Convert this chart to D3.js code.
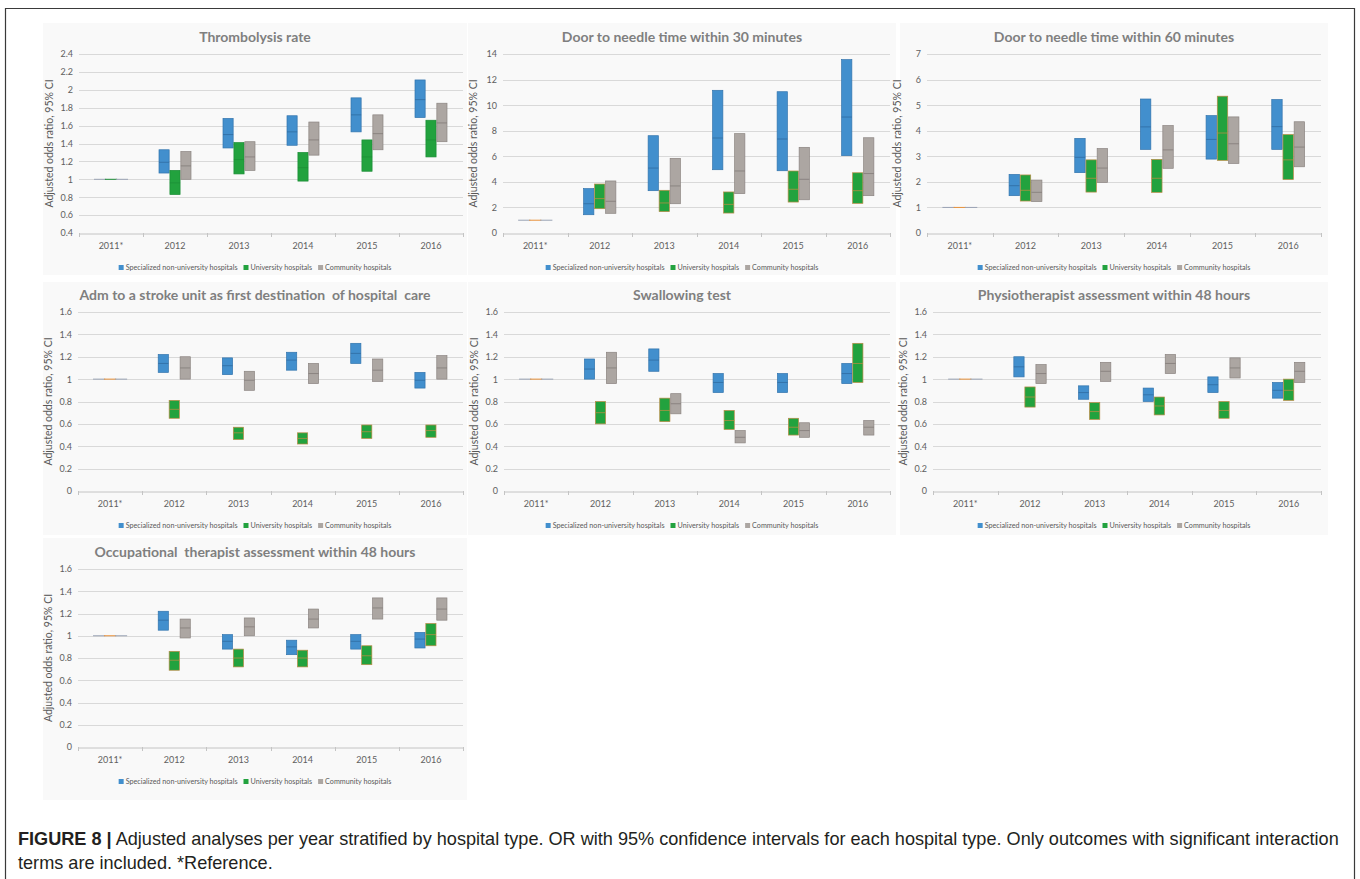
<!DOCTYPE html>
<html>
<head>
<meta charset="utf-8">
<script src="https://cdn.jsdelivr.net/npm/d3@7"></script>
<style>
  body { margin: 0; background: #fff; }
  svg { display: block; }
</style>
</head>
<body>
<div id="chart"></div>
<script>
// categories
const years = ["2011*", "2012", "2013", "2014", "2015", "2016"];
const hospitalTypes = ["Specialized non-university hospitals", "University hospitals", "Community hospitals"];

// each entry is [lower CI, odds ratio, upper CI] per year
const thrombolysisSpecialized = [[1, 1, 1], [1.07, 1.19, 1.33], [1.35, 1.50, 1.68], [1.38, 1.53, 1.71], [1.53, 1.72, 1.91], [1.69, 1.89, 2.11]];
const thrombolysisUniversity  = [[1, 1, 1], [0.83, 0.96, 1.10], [1.06, 1.22, 1.41], [0.98, 1.13, 1.30], [1.09, 1.25, 1.44], [1.25, 1.44, 1.66]];
const thrombolysisCommunity   = [[1, 1, 1], [1.00, 1.15, 1.31], [1.10, 1.25, 1.42], [1.27, 1.44, 1.64], [1.33, 1.51, 1.72], [1.42, 1.63, 1.85]];

const dnt30Specialized = [[1, 1, 1], [1.43, 2.29, 3.47], [3.31, 5.08, 7.61], [4.95, 7.43, 11.16], [4.87, 7.35, 11.05], [6.05, 9.07, 13.56]];
const dnt30University  = [[1, 1, 1], [1.90, 2.69, 3.83], [1.67, 2.35, 3.34], [1.56, 2.24, 3.21], [2.42, 3.42, 4.85], [2.32, 3.31, 4.71]];
const dnt30Community   = [[1, 1, 1], [1.54, 2.48, 4.07], [2.29, 3.68, 5.84], [3.08, 4.85, 7.77], [2.60, 4.20, 6.70], [2.92, 4.65, 7.45]];

const dnt60Specialized = [[1, 1, 1], [1.46, 1.85, 2.29], [2.36, 2.96, 3.70], [3.27, 4.15, 5.24], [2.89, 3.66, 4.59], [3.27, 4.16, 5.22]];
const dnt60University  = [[1, 1, 1], [1.25, 1.67, 2.27], [1.60, 2.14, 2.86], [1.59, 2.14, 2.88], [2.84, 3.91, 5.35], [2.09, 2.86, 3.85]];
const dnt60Community   = [[1, 1, 1], [1.23, 1.59, 2.07], [1.98, 2.54, 3.30], [2.53, 3.25, 4.20], [2.72, 3.49, 4.54], [2.59, 3.36, 4.35]];

const strokeUnitSpecialized = [[1, 1, 1], [1.06, 1.14, 1.22], [1.04, 1.12, 1.19], [1.08, 1.17, 1.24], [1.14, 1.23, 1.32], [0.92, 0.99, 1.06]];
const strokeUnitUniversity  = [[1, 1, 1], [0.65, 0.73, 0.81], [0.46, 0.52, 0.57], [0.42, 0.47, 0.52], [0.47, 0.53, 0.59], [0.48, 0.54, 0.59]];
const strokeUnitCommunity   = [[1, 1, 1], [1.00, 1.10, 1.20], [0.90, 0.99, 1.07], [0.96, 1.05, 1.14], [0.98, 1.08, 1.18], [1.00, 1.10, 1.21]];

const swallowSpecialized = [[1, 1, 1], [1.00, 1.09, 1.18], [1.07, 1.17, 1.27], [0.88, 0.97, 1.05], [0.88, 0.97, 1.05], [0.96, 1.05, 1.14]];
const swallowUniversity  = [[1, 1, 1], [0.60, 0.70, 0.80], [0.62, 0.72, 0.83], [0.55, 0.63, 0.72], [0.50, 0.57, 0.65], [0.97, 1.14, 1.32]];
const swallowCommunity   = [[1, 1, 1], [0.96, 1.10, 1.24], [0.69, 0.78, 0.87], [0.43, 0.48, 0.54], [0.48, 0.54, 0.61], [0.50, 0.57, 0.63]];

const physioSpecialized = [[1, 1, 1], [1.02, 1.11, 1.20], [0.82, 0.88, 0.94], [0.80, 0.86, 0.92], [0.88, 0.95, 1.02], [0.83, 0.90, 0.97]];
const physioUniversity  = [[1, 1, 1], [0.75, 0.84, 0.93], [0.64, 0.71, 0.79], [0.68, 0.76, 0.84], [0.65, 0.72, 0.80], [0.81, 0.90, 1.00]];
const physioCommunity   = [[1, 1, 1], [0.96, 1.05, 1.13], [0.98, 1.07, 1.15], [1.05, 1.14, 1.22], [1.01, 1.10, 1.19], [0.97, 1.07, 1.15]];

const occupSpecialized = [[1, 1, 1], [1.05, 1.14, 1.22], [0.88, 0.95, 1.01], [0.83, 0.90, 0.96], [0.88, 0.95, 1.01], [0.89, 0.97, 1.03]];
const occupUniversity  = [[1, 1, 1], [0.69, 0.78, 0.86], [0.72, 0.80, 0.88], [0.72, 0.80, 0.87], [0.74, 0.82, 0.91], [0.91, 1.01, 1.11]];
const occupCommunity   = [[1, 1, 1], [0.98, 1.07, 1.15], [1.00, 1.08, 1.16], [1.07, 1.15, 1.24], [1.15, 1.25, 1.34], [1.14, 1.24, 1.34]];

// y tick labels
const ticksThrombolysis = [0.4, 0.6, 0.8, 1, 1.2, 1.4, 1.6, 1.8, 2, 2.2, 2.4];
const ticksDnt30 = [0, 2, 4, 6, 8, 10, 12, 14];
const ticksDnt60 = [0, 1, 2, 3, 4, 5, 6, 7];
const ticksProportion = [0, 0.2, 0.4, 0.6, 0.8, 1, 1.2, 1.4, 1.6];

const panels = [
  { title: "Thrombolysis rate", ticks: ticksThrombolysis, series: [thrombolysisSpecialized, thrombolysisUniversity, thrombolysisCommunity], greenEdge: "#1b8c35" },
  { title: "Door to needle time within 30 minutes", ticks: ticksDnt30, series: [dnt30Specialized, dnt30University, dnt30Community] },
  { title: "Door to needle time within 60 minutes", ticks: ticksDnt60, series: [dnt60Specialized, dnt60University, dnt60Community] },
  { title: "Adm to a stroke unit as first destination  of hospital  care", ticks: ticksProportion, series: [strokeUnitSpecialized, strokeUnitUniversity, strokeUnitCommunity] },
  { title: "Swallowing test", ticks: ticksProportion, series: [swallowSpecialized, swallowUniversity, swallowCommunity] },
  { title: "Physiotherapist assessment within 48 hours", ticks: ticksProportion, series: [physioSpecialized, physioUniversity, physioCommunity] },
  { title: "Occupational  therapist assessment within 48 hours", ticks: ticksProportion, series: [occupSpecialized, occupUniversity, occupCommunity] }
];

// placement of the seven panels on the page
const layout = [
  { px: 43,  py: 23,  pw: 424, ph: 252, x0: 79,  x1: 463,  yTop: 54,  yBot: 233 },
  { px: 468, py: 23,  pw: 428, ph: 252, x0: 503, x1: 890,  yTop: 54,  yBot: 233 },
  { px: 900, py: 23,  pw: 428, ph: 252, x0: 927, x1: 1321, yTop: 54,  yBot: 233 },
  { px: 43,  py: 282, pw: 424, ph: 253, x0: 78,  x1: 463,  yTop: 312, yBot: 491 },
  { px: 468, py: 282, pw: 428, ph: 253, x0: 504, x1: 890,  yTop: 312, yBot: 491 },
  { px: 900, py: 282, pw: 428, ph: 253, x0: 933, x1: 1321, yTop: 312, yBot: 491 },
  { px: 43,  py: 538, pw: 424, ph: 262, x0: 78,  x1: 463,  yTop: 569, yBot: 747 }
];

const fills = ["#428fcd", "#22a23e", "#aca6a2"];
const edges = ["#3274ad", "#b98b45", "#8b8480"];
const midColors = ["#2d679c", "#c48d45", "#7c7672"];
const font = "Lato, 'Open Sans', sans-serif";

const svg = d3.select("#chart").append("svg")
  .attr("width", 1360)
  .attr("height", 879);

// page frame
svg.append("path")
  .attr("d", "M5.5,879 V8.5 H1354.5 V879")
  .attr("fill", "none")
  .attr("stroke", "#3a3a3a")
  .attr("stroke-width", 1.2);

panels.forEach((p, i) => {
  const L = layout[i];
  const g = svg.append("g");

  g.append("rect")
    .attr("x", L.px).attr("y", L.py)
    .attr("width", L.pw).attr("height", L.ph)
    .attr("fill", "#f9f9f9");

  const x = d3.scaleBand().domain(years).range([L.x0, L.x1]);
  const bw = x.bandwidth();
  const inner = d3.scaleBand().domain(d3.range(hospitalTypes.length))
    .range([bw / 4, bw * 3 / 4])
    .paddingInner(0.07);
  const y = d3.scaleLinear()
    .domain(d3.extent(p.ticks))
    .range([L.yBot, L.yTop]);

  // gridlines
  g.selectAll(".grid")
    .data(p.ticks.slice(1))
    .enter().append("line")
    .attr("x1", L.x0).attr("x2", L.x1)
    .attr("y1", d => Math.round(y(d)) + 0.5)
    .attr("y2", d => Math.round(y(d)) + 0.5)
    .attr("stroke", "#d9d9d9");

  // y axis labels
  const yAxis = g.append("g")
    .attr("transform", `translate(${L.x0},0)`)
    .call(d3.axisLeft(y).tickValues(p.ticks).tickSize(0).tickPadding(6).tickFormat(d3.format("~g")));
  yAxis.select(".domain").remove();
  yAxis.selectAll("text")
    .attr("font-family", font).attr("font-size", 9).attr("fill", "#606060");

  // x axis
  const xAxis = g.append("g")
    .attr("transform", `translate(0,${Math.round(L.yBot) + 0.5})`)
    .call(d3.axisBottom(x).tickSize(0).tickPadding(9));
  xAxis.select(".domain").attr("stroke", "#c4c4c4");
  xAxis.selectAll("text")
    .attr("font-family", font).attr("font-size", 9).attr("fill", "#606060");
  g.selectAll(".xtick")
    .data(years.concat(["end"]))
    .enter().append("line")
    .attr("x1", (d, j) => Math.round(L.x0 + j * bw) + 0.5)
    .attr("x2", (d, j) => Math.round(L.x0 + j * bw) + 0.5)
    .attr("y1", Math.round(L.yBot)).attr("y2", Math.round(L.yBot) + 4)
    .attr("stroke", "#c4c4c4");

  // y axis title
  g.append("text")
    .attr("transform", `translate(${L.x0 - 26},${(L.yTop + L.yBot) / 2}) rotate(-90)`)
    .attr("text-anchor", "middle")
    .attr("font-family", font).attr("font-size", 10.5).attr("fill", "#595959")
    .text("Adjusted odds ratio, 95% CI");

  // panel title
  g.append("text")
    .attr("x", L.px + L.pw / 2)
    .attr("y", L.yTop - 12)
    .attr("text-anchor", "middle")
    .attr("font-family", font).attr("font-weight", "bold")
    .attr("font-size", 14).attr("fill", "#7f7f7f")
    .style("white-space", "pre")
    .text(p.title);

  // confidence boxes
  p.series.forEach((vals, k) => {
    const edge = (k === 1 && p.greenEdge) ? p.greenEdge : edges[k];
    const mid = (k === 1 && p.greenEdge) ? p.greenEdge : midColors[k];
    const sg = g.append("g");
    sg.selectAll("rect")
      .data(vals.map((v, j) => ({ year: years[j], lo: v[0], or: v[1], hi: v[2] })).filter(d => d.hi > d.lo))
      .enter().append("rect")
      .attr("x", d => x(d.year) + inner(k))
      .attr("width", inner.bandwidth())
      .attr("y", d => y(d.hi))
      .attr("height", d => y(d.lo) - y(d.hi))
      .attr("fill", fills[k])
      .attr("stroke", edge)
      .attr("stroke-width", 0.7);
    sg.selectAll("line")
      .data(vals.map((v, j) => ({ year: years[j], or: v[1], ref: v[0] === v[2] })))
      .enter().append("line")
      .attr("x1", d => x(d.year) + inner(k) - (d.ref ? 1 : 0))
      .attr("x2", d => x(d.year) + inner(k) + inner.bandwidth() + (d.ref ? 1 : 0))
      .attr("y1", d => y(d.or))
      .attr("y2", d => y(d.or))
      .attr("stroke", d => d.ref ? (k === 1 ? (p.greenEdge || "#e8913a") : "#9aa3b5") : mid)
      .attr("stroke-width", d => d.ref ? 1 : 0.7);
  });

  // legend
  const lg = g.append("g").attr("transform", `translate(0,${L.yBot + 35})`);
  const items = [];
  hospitalTypes.forEach((name, k) => {
    const item = lg.append("g");
    item.append("rect")
      .attr("x", 0).attr("y", -3)
      .attr("width", 5).attr("height", 5)
      .attr("fill", fills[k]);
    const t = item.append("text")
      .attr("x", 7).attr("y", 2)
      .attr("font-family", font).attr("font-size", 7.2).attr("fill", "#595959")
      .text(name);
    const w = 7 + t.node().getComputedTextLength();
    items.push({ item, w });
  });
  const total = d3.sum(items, d => d.w) + 6 * (items.length - 1);
  let cx = L.px + L.pw / 2 - total / 2;
  items.forEach(d => {
    d.item.attr("transform", `translate(${cx},0)`);
    cx += d.w + 6;
  });
});

// caption, narrowed horizontally to mimic a condensed face
const capFont = "'Liberation Sans', Arial, sans-serif";
const cap = svg.append("g");
const cap1 = cap.append("text")
  .attr("x", 0).attr("y", 0)
  .attr("font-family", capFont).attr("font-size", 18).attr("fill", "#231f20");
cap1.append("tspan").attr("font-weight", "bold").text("FIGURE 8 |");
cap1.append("tspan").text(" Adjusted analyses per year stratified by hospital type. OR with 95% confidence intervals for each hospital type. Only outcomes with significant interaction");
const cap2 = cap.append("text")
  .attr("x", 0).attr("y", 24)
  .attr("font-family", capFont).attr("font-size", 18).attr("fill", "#231f20")
  .text("terms are included. *Reference.");
const sx = 1322 / cap1.node().getComputedTextLength();
cap.attr("transform", `translate(18,845) scale(${sx},1)`);
</script>
</body>
</html>
